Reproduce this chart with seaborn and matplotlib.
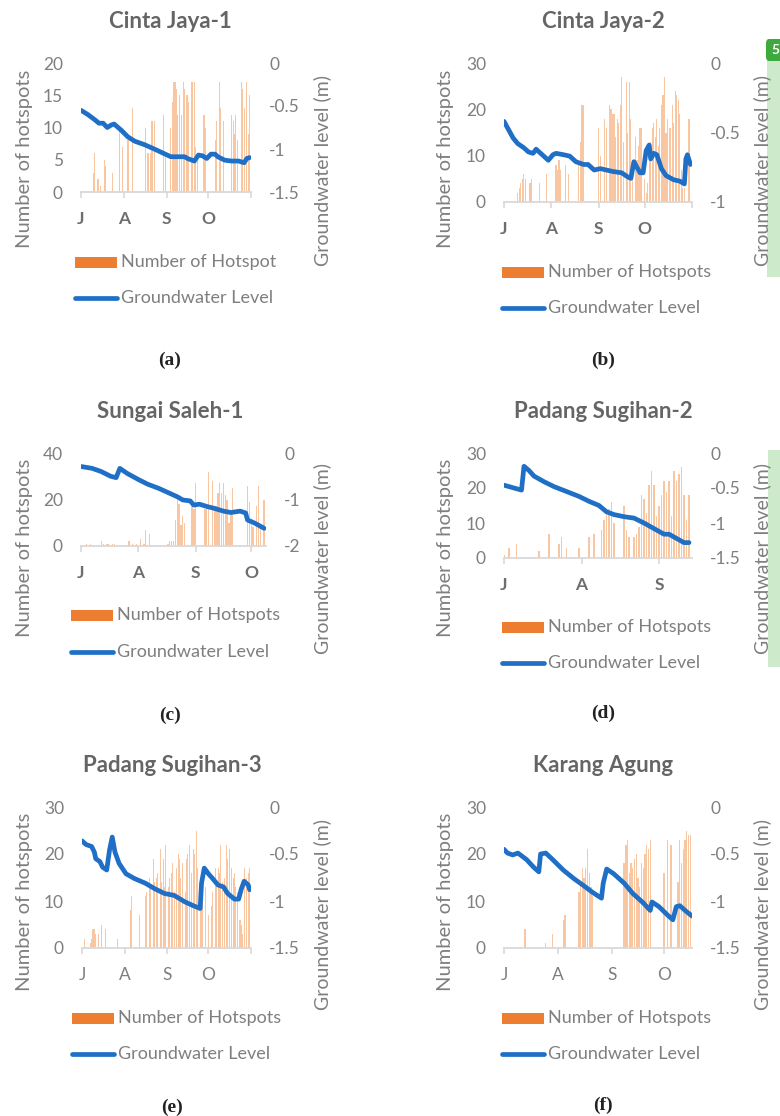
import matplotlib
matplotlib.use('Agg')
import matplotlib.pyplot as plt
import seaborn as sns
from matplotlib.patches import Rectangle, FancyBboxPatch
from matplotlib.lines import Line2D

sns.set_theme(style='white')
plt.rcParams['font.family'] = ['Lato', 'DejaVu Sans']

# ---------------- data (day index: 0 = 1 July) ----------------
months = ['J', 'A', 'S', 'O']
month_days = [0, 31, 62, 92]

# (a) Cinta Jaya-1
a_days = [9, 10, 12, 13, 14, 17, 18, 23, 28, 30, 34, 37, 47, 48, 49, 50, 51, 52, 53, 60, 61, 65, 66, 67, 68, 69,
          70, 71, 73, 74, 75, 76, 77, 78, 80, 81, 82, 83, 84, 89, 90, 97, 98, 100, 101, 103, 109, 110, 111, 112,
          113, 116, 117, 118, 120, 121, 122]
a_hot = [3, 6, 2, 2, 1, 5, 4, 3, 10, 7, 8, 13, 10, 6, 6, 6, 11, 11, 11, 12, 6, 10, 14, 17, 17, 16,
         12, 15, 12, 17, 16, 15, 15, 14, 17, 17, 17, 7, 6, 12, 10, 8, 11, 17, 13, 11, 12, 11, 9, 12,
         8, 17, 16, 13, 17, 9, 15]
a_gw_days = [0, 5, 10, 13, 16, 19, 22, 24, 29, 34, 39, 46, 53, 61, 65, 70, 75, 77, 82, 85, 88, 91, 94, 97, 99,
             104, 109, 114, 118, 120, 122]
a_gw = [-0.55, -0.60, -0.66, -0.70, -0.70, -0.75, -0.72, -0.71, -0.78, -0.86, -0.91, -0.95, -1.00, -1.06, -1.09,
        -1.09, -1.09, -1.11, -1.14, -1.07, -1.08, -1.11, -1.06, -1.06, -1.09, -1.13, -1.14, -1.14, -1.16, -1.11, -1.10]

# (b) Cinta Jaya-2
b_days = [9, 10, 11, 12, 13, 14, 17, 18, 23, 28, 34, 35, 36, 37, 40, 42, 49, 50, 51, 52, 62, 63, 66, 67, 69, 70,
          71, 72, 73, 74, 75, 76, 77, 78, 80, 81, 82, 83, 84, 86, 87, 88, 89, 90, 92, 93, 94, 95, 96, 97, 98, 99,
          100, 101, 102, 103, 104, 105, 106, 107, 108, 109, 110, 111, 112, 113, 114, 115, 116, 117, 118, 121]
b_hot = [2, 3, 4, 5, 6, 5, 4, 5, 4, 6, 8, 7, 9, 7, 8, 6, 8, 13, 21, 21, 16, 10, 18, 16, 21, 20,
         19, 19, 14, 18, 17, 21, 27, 13, 26, 15, 26, 18, 9, 14, 9, 12, 16, 16, 5, 2, 4, 10, 13, 16, 17, 14,
         18, 12, 16, 21, 23, 27, 15, 18, 16, 16, 21, 17, 24, 23, 22, 19, 7, 3, 3, 18]
b_gw_days = [0, 3, 6, 9, 13, 16, 19, 21, 25, 29, 32, 34, 39, 43, 47, 52, 55, 59, 63, 67, 71, 77, 81, 83, 85, 87,
             89, 91, 93, 95, 96, 98, 100, 103, 106, 111, 115, 118, 119, 120, 122]
b_gw = [-0.42, -0.48, -0.54, -0.58, -0.61, -0.64, -0.65, -0.62, -0.66, -0.70, -0.66, -0.65, -0.66, -0.67, -0.71,
        -0.73, -0.73, -0.77, -0.76, -0.77, -0.78, -0.79, -0.82, -0.83, -0.71, -0.75, -0.79, -0.79, -0.63, -0.59,
        -0.69, -0.65, -0.66, -0.76, -0.81, -0.84, -0.85, -0.87, -0.69, -0.66, -0.73]

# (c) Sungai Saleh-1
c_days = [3, 5, 11, 12, 14, 15, 17, 18, 26, 28, 30, 32, 34, 35, 37, 47, 48, 49, 50, 51, 52, 53, 54, 55, 56, 60,
          61, 62, 67, 68, 69, 71, 72, 73, 74, 75, 76, 77, 78, 79, 80, 81, 82, 90, 91, 92, 93, 95, 96, 97, 99]
c_hot = [1, 1, 2, 1, 1, 1, 1, 1, 2, 1, 1, 3, 1, 7, 5, 1, 2, 2, 2, 11, 20, 18, 9, 13, 10, 18,
         16, 27, 16, 16, 32, 28, 16, 17, 23, 27, 23, 27, 22, 20, 10, 15, 25, 26, 19, 9, 8, 17, 26, 8, 20]
c_gw_days = [0, 6, 11, 16, 19, 21, 25, 31, 36, 42, 47, 52, 55, 59, 61, 64, 68, 72, 77, 81, 86, 89, 90, 94, 99]
c_gw = [-0.29, -0.33, -0.40, -0.50, -0.53, -0.33, -0.44, -0.57, -0.67, -0.76, -0.85, -0.94, -1.01, -1.03, -1.12,
        -1.10, -1.15, -1.19, -1.25, -1.28, -1.25, -1.29, -1.44, -1.51, -1.62]

# (d) Padang Sugihan-2
d_days = [0, 2, 5, 14, 18, 22, 23, 25, 30, 34, 36, 39, 40, 41, 42, 43, 44, 48, 49, 50, 52, 53, 54, 55, 56, 57,
          58, 59, 60, 61, 62, 63, 64, 65, 66, 67, 68, 69, 70, 71, 72, 73, 74]
d_hot = [1, 3, 4, 2, 7, 4, 6, 3, 3, 6, 7, 8, 11, 13, 14, 16, 10, 15, 8, 6, 6, 7, 9, 18, 17, 13,
         21, 25, 21, 12, 15, 18, 22, 19, 22, 12, 25, 22, 24, 26, 18, 11, 18]
d_gw_days = [0, 4, 7, 8, 10, 12, 16, 20, 25, 30, 34, 38, 41, 44, 48, 52, 56, 60, 64, 66, 69, 72, 74]
d_gw = [-0.46, -0.50, -0.53, -0.19, -0.25, -0.33, -0.41, -0.48, -0.55, -0.62, -0.69, -0.75, -0.84, -0.88, -0.91,
        -0.93, -1.00, -1.08, -1.16, -1.16, -1.22, -1.28, -1.28]

# (e) Padang Sugihan-3
e_days = [2, 6, 7, 8, 9, 10, 12, 14, 17, 26, 35, 36, 42, 46, 47, 49, 50, 52, 53, 54, 55, 57, 58, 59, 60, 61, 63,
          64, 65, 66, 67, 69, 70, 71, 72, 73, 75, 76, 77, 78, 80, 81, 82, 83, 84, 86, 87, 88, 90, 92, 94, 95, 97,
          98, 99, 100, 101, 102, 104, 105, 106, 107, 109, 110, 111, 112, 113, 115, 116, 117, 118, 120, 121, 122]
e_hot = [2, 1, 2, 4, 4, 3, 3, 5, 4, 2, 8, 11, 7, 11, 12, 15, 13, 19, 14, 15, 16, 21, 14, 19, 13, 22, 13,
         15, 16, 18, 12, 17, 20, 19, 15, 18, 12, 19, 20, 22, 16, 21, 20, 25, 17, 14, 10, 10, 13, 7, 9, 12, 17,
         14, 17, 16, 22, 14, 15, 22, 19, 21, 17, 15, 16, 13, 12, 6, 5, 3, 17, 15, 16, 17]
e_gw_days = [0, 3, 7, 9, 10, 13, 15, 18, 20, 22, 24, 27, 32, 38, 46, 53, 60, 67, 75, 81, 86, 87, 89, 92, 95, 99,
             103, 106, 111, 114, 116, 118, 121, 122]
e_gw = [-0.36, -0.40, -0.42, -0.48, -0.55, -0.58, -0.64, -0.67, -0.46, -0.32, -0.48, -0.60, -0.71, -0.76, -0.81,
        -0.87, -0.92, -0.94, -1.01, -1.05, -1.08, -0.81, -0.65, -0.71, -0.76, -0.83, -0.85, -0.92, -0.98, -0.98,
        -0.87, -0.79, -0.83, -0.88]

# (f) Karang Agung
f_days = [12, 24, 28, 34, 35, 43, 44, 45, 46, 47, 48, 49, 50, 51, 69, 70, 71, 72, 73, 74, 75, 76, 77, 78, 79, 80,
          81, 82, 83, 84, 92, 94, 96, 100, 101, 102, 103, 104, 105, 106, 107]
f_hot = [4, 1, 3, 6, 7, 12, 14, 17, 15, 17, 21, 16, 13, 11, 18, 22, 23, 16, 18, 17, 19, 20, 15, 13, 18, 17,
         20, 22, 21, 23, 16, 23, 22, 14, 23, 18, 21, 23, 25, 24, 24]
f_gw_days = [0, 2, 5, 8, 13, 17, 20, 21, 24, 28, 34, 40, 46, 51, 56, 57, 59, 63, 69, 74, 80, 84, 85, 89, 94, 97,
             99, 101, 104, 108]
f_gw = [-0.45, -0.49, -0.51, -0.49, -0.56, -0.64, -0.69, -0.50, -0.49, -0.56, -0.67, -0.76, -0.84, -0.91, -0.97,
        -0.81, -0.66, -0.71, -0.81, -0.92, -1.02, -1.10, -1.01, -1.06, -1.15, -1.20, -1.06, -1.05, -1.10, -1.16]

# ---------------- styling ----------------
W, H = 780, 1116
BAR = '#F9C6A2'
ORANGE = '#ED7D31'
LINE = '#1F6FC6'
GRAY = '#7F7F7F'
TITLE = '#656565'
AXIS = '#D9D9D9'


def fx(px):
    return px / W


def fy(py):
    return 1 - py / H


panels = [
    dict(title='Cinta Jaya-1', bd=a_days, bv=a_hot, ld=a_gw_days, lv=a_gw, ymax=20, yt=[0, 5, 10, 15, 20],
         y2min=-1.5, y2t=[0, -0.5, -1, -1.5], xend=123, endtick=True, rect=(81, 251, 63, 192),
         tpos=(170, 21), leg=(75, 262, 298), legl='Number of Hotspot', cap='(a)', cpos=(170, 360),
         yl=(25, 159), y2l=(322, 171), boldm=True),
    dict(title='Cinta Jaya-2', bd=b_days, bv=b_hot, ld=b_gw_days, lv=b_gw, ymax=30, yt=[0, 10, 20, 30],
         y2min=-1, y2t=[0, -0.5, -1], xend=123, endtick=True, rect=(504, 692, 63, 202),
         tpos=(603, 21), leg=(502, 272, 308), legl='Number of Hotspots', cap='(b)', cpos=(603, 360),
         yl=(445, 159), y2l=(762, 171), boldm=True),
    dict(title='Sungai Saleh-1', bd=c_days, bv=c_hot, ld=c_gw_days, lv=c_gw, ymax=40, yt=[0, 20, 40],
         y2min=-2, y2t=[0, -1, -2], xend=100, endtick=False, rect=(81, 266, 453, 546),
         tpos=(170, 412), leg=(71, 615, 652), legl='Number of Hotspots', cap='(c)', cpos=(170, 715),
         yl=(25, 548), y2l=(322, 559), boldm=True),
    dict(title='Padang Sugihan-2', bd=d_days, bv=d_hot, ld=d_gw_days, lv=d_gw, ymax=30, yt=[0, 10, 20, 30],
         y2min=-1.5, y2t=[0, -0.5, -1, -1.5], xend=75.2, endtick=False, rect=(504, 692, 453, 558),
         tpos=(603, 412), leg=(502, 627, 663), legl='Number of Hotspots', cap='(d)', cpos=(603, 713),
         yl=(445, 548), y2l=(762, 559), boldm=True),
    dict(title='Padang Sugihan-3', bd=e_days, bv=e_hot, ld=e_gw_days, lv=e_gw, ymax=30, yt=[0, 10, 20, 30],
         y2min=-1.5, y2t=[0, -0.5, -1, -1.5], xend=123, endtick=True, rect=(82, 251, 807, 948),
         tpos=(172, 765), leg=(72, 1018, 1054), legl='Number of Hotspots', cap='(e)', cpos=(172, 1107),
         yl=(25, 902), y2l=(322, 914), boldm=False),
    dict(title='Karang Agung', bd=f_days, bv=f_hot, ld=f_gw_days, lv=f_gw, ymax=30, yt=[0, 10, 20, 30],
         y2min=-1.5, y2t=[0, -0.5, -1, -1.5], xend=108, endtick=False, rect=(504, 692, 807, 948),
         tpos=(603, 765), leg=(502, 1018, 1054), legl='Number of Hotspots', cap='(f)', cpos=(603, 1105),
         yl=(445, 902), y2l=(762, 914), boldm=False),
]

fig = plt.figure(figsize=(W / 100, H / 100), dpi=100)

for p in panels:
    l, r, t, b = p['rect']
    ax = fig.add_axes([fx(l), fy(b), (r - l) / W, (b - t) / H])
    ax.set_facecolor('none')
    sns.barplot(x=p['bd'], y=p['bv'], ax=ax, native_scale=True, color=BAR, saturation=1,
                width=0.75, errorbar=None, linewidth=0)
    ax2 = ax.twinx()
    sns.lineplot(x=p['ld'], y=p['lv'], ax=ax2, color=LINE, linewidth=3.4, solid_capstyle='round',
                 solid_joinstyle='round')

    ticks = month_days[:]
    labels = months[:]
    if p['xend'] < 62 + 20:
        ticks, labels = ticks[:3], labels[:3]
    if p['endtick']:
        ticks = ticks + [p['xend']]
        labels = labels + ['']
    ax.set_xlim(0, p['xend'])
    ax.set_xticks(ticks)
    ax.set_xticklabels(labels, fontweight='bold' if p['boldm'] else 'normal',
                       color='#6E6E6E' if p['boldm'] else GRAY)
    ax.set_ylim(0, p['ymax'])
    ax.set_yticks(p['yt'])
    ax.set_yticklabels([f'{v:g}' for v in p['yt']])
    ax2.set_ylim(p['y2min'], 0)
    ax2.set_yticks(p['y2t'])
    ax2.set_yticklabels([f'{v:g}' for v in p['y2t']])
    ax2.set_xlim(0, p['xend'])

    for a in (ax, ax2):
        a.set_xlabel('')
        a.set_ylabel('')
        a.grid(False)
        for s in a.spines.values():
            s.set_visible(False)
    ax.spines['bottom'].set_visible(True)
    ax.spines['bottom'].set_color(AXIS)
    ax.spines['bottom'].set_linewidth(1.3)
    ax.tick_params(axis='x', length=4, width=1.2, color=AXIS, pad=10, labelsize=12.5, bottom=True)
    ax.tick_params(axis='y', length=0, pad=13, labelsize=12.5, labelcolor=GRAY)
    ax2.tick_params(axis='y', length=0, pad=13, labelsize=12.5, labelcolor=GRAY)

    fig.text(fx(p['tpos'][0]), fy(p['tpos'][1]), p['title'], ha='center', va='center',
             fontsize=16, fontweight='bold', color=TITLE)
    fig.text(fx(p['yl'][0]), fy(p['yl'][1]), 'Number of hotspots', rotation=90, ha='center',
             va='center', fontsize=14.5, color=GRAY)
    fig.text(fx(p['y2l'][0]), fy(p['y2l'][1]), 'Groundwater level (m)', rotation=90, ha='center',
             va='center', fontsize=14, color=GRAY)

    lx, ly1, ly2 = p['leg']
    fig.add_artist(Rectangle((fx(lx), fy(ly1 + 5.5)), 42 / W, 11 / H, transform=fig.transFigure,
                             facecolor=ORANGE, edgecolor='none'))
    fig.add_artist(Line2D([fx(lx), fx(lx + 42)], [fy(ly2), fy(ly2)], transform=fig.transFigure,
                          color=LINE, linewidth=3.4, solid_capstyle='round'))
    fig.text(fx(lx + 46), fy(ly1), p['legl'], ha='left', va='center', fontsize=13, color=GRAY)
    fig.text(fx(lx + 46), fy(ly2), 'Groundwater Level', ha='left', va='center', fontsize=13, color=GRAY)

    fig.text(fx(p['cpos'][0]), fy(p['cpos'][1]), p['cap'], ha='center', va='center', fontsize=14,
             fontweight='bold', color='#222222', family=['Liberation Serif', 'DejaVu Serif'])

# page annotation strips at right edge
fig.add_artist(Rectangle((fx(767), fy(277)), 13 / W, (277 - 60) / H, transform=fig.transFigure,
                         facecolor='#CDEBCB', edgecolor='none'))
fig.add_artist(FancyBboxPatch((fx(766), fy(61)), 20 / W, 22 / H, boxstyle='round,pad=0,rounding_size=0.004',
                              transform=fig.transFigure, facecolor='#3DAA3D', edgecolor='none'))
fig.text(fx(775), fy(50), '5', ha='center', va='center', fontsize=10, fontweight='bold', color='white')
fig.add_artist(Rectangle((fx(768), fy(667)), 12 / W, (667 - 450) / H, transform=fig.transFigure,
                         facecolor='#CDEBCB', edgecolor='none'))

fig.savefig('out.png', dpi=100, facecolor='white')
